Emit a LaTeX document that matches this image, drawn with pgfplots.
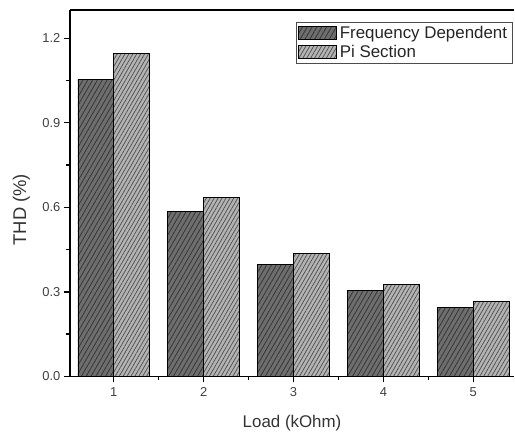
\documentclass[border=0pt]{standalone}
\usepackage{pgfplots}
\pgfplotsset{compat=1.18}
\usepackage{fontspec}
\setmainfont{Liberation Sans}
\usetikzlibrary{patterns.meta}
\definecolor{fdfill}{HTML}{6E6E6E}
\definecolor{pifill}{HTML}{B4B4B4}
\definecolor{fdline}{HTML}{3A3A3A}
\definecolor{piline}{HTML}{555555}
\begin{document}
\begin{tikzpicture}
\path (0,0) rectangle (515bp,434bp);
\begin{axis}[
  at={(70bp,57bp)}, anchor=south west,
  scale only axis, width=445bp, height=367bp,
  xmin=0.511, xmax=5.456, ymin=0, ymax=1.3,
  axis x line*=box, axis y line*=left,
  y axis line style={-},
  ybar=0pt, bar width=36bp,
  xtick={1,2,3,4,5}, minor xtick={1.5,2.5,3.5,4.5},
  ytick={0,0.3,0.6,0.9,1.2}, minor ytick={0.15,0.45,0.75,1.05},
  yticklabel style={/pgf/number format/.cd, fixed, fixed zerofill, precision=1},
  /pgf/number format/assume math mode=true,
  tick align=outside, xtick pos=bottom, ytick pos=left,
  major tick length=6bp, minor tick length=3.5bp,
  every tick/.style={black, line width=1.3bp},
  axis line style={line width=1.6bp},
  tick label style={font=\fontsize{13}{16}\selectfont, text=black!75},
  xticklabel style={yshift=-2bp},
  xlabel={Load (kOhm)}, ylabel={THD (\%)},
  label style={text=black!80},
  xlabel style={font=\fontsize{17}{20}\selectfont, at={(axis description cs:0.5,-0.105)}, anchor=north, inner sep=0pt},
  ylabel style={font=\fontsize{18.5}{20}\selectfont, at={(axis description cs:-0.109,0.455)}, anchor=center, inner sep=0pt},
  legend cell align=left,
  legend style={at={(axis description cs:0.996,0.967)}, anchor=north east,
    draw=black!70, line width=0.6bp, font=\fontsize{17}{20}\selectfont,
    inner xsep=2bp, inner ysep=2bp, row sep=1bp, text=black!85,
    nodes={inner xsep=3bp}},
  legend image code/.code={%
    \draw[#1] (1bp,-6.5bp) rectangle (39bp,6.5bp);},
]
\addplot[draw=black, line width=0.7bp, fill=fdfill,
  postaction={pattern={Lines[angle=60,distance=4.2bp,line width=0.9bp]}, pattern color=fdline}]
  coordinates {(1,1.055) (2,0.585) (3,0.396) (4,0.305) (5,0.246)};
\addplot[draw=black, line width=0.7bp, fill=pifill,
  postaction={pattern={Lines[angle=60,distance=3.4bp,line width=0.8bp]}, pattern color=piline}]
  coordinates {(1,1.147) (2,0.635) (3,0.435) (4,0.327) (5,0.266)};
\legend{Frequency Dependent, Pi Section}
\end{axis}
\end{tikzpicture}
\end{document}
